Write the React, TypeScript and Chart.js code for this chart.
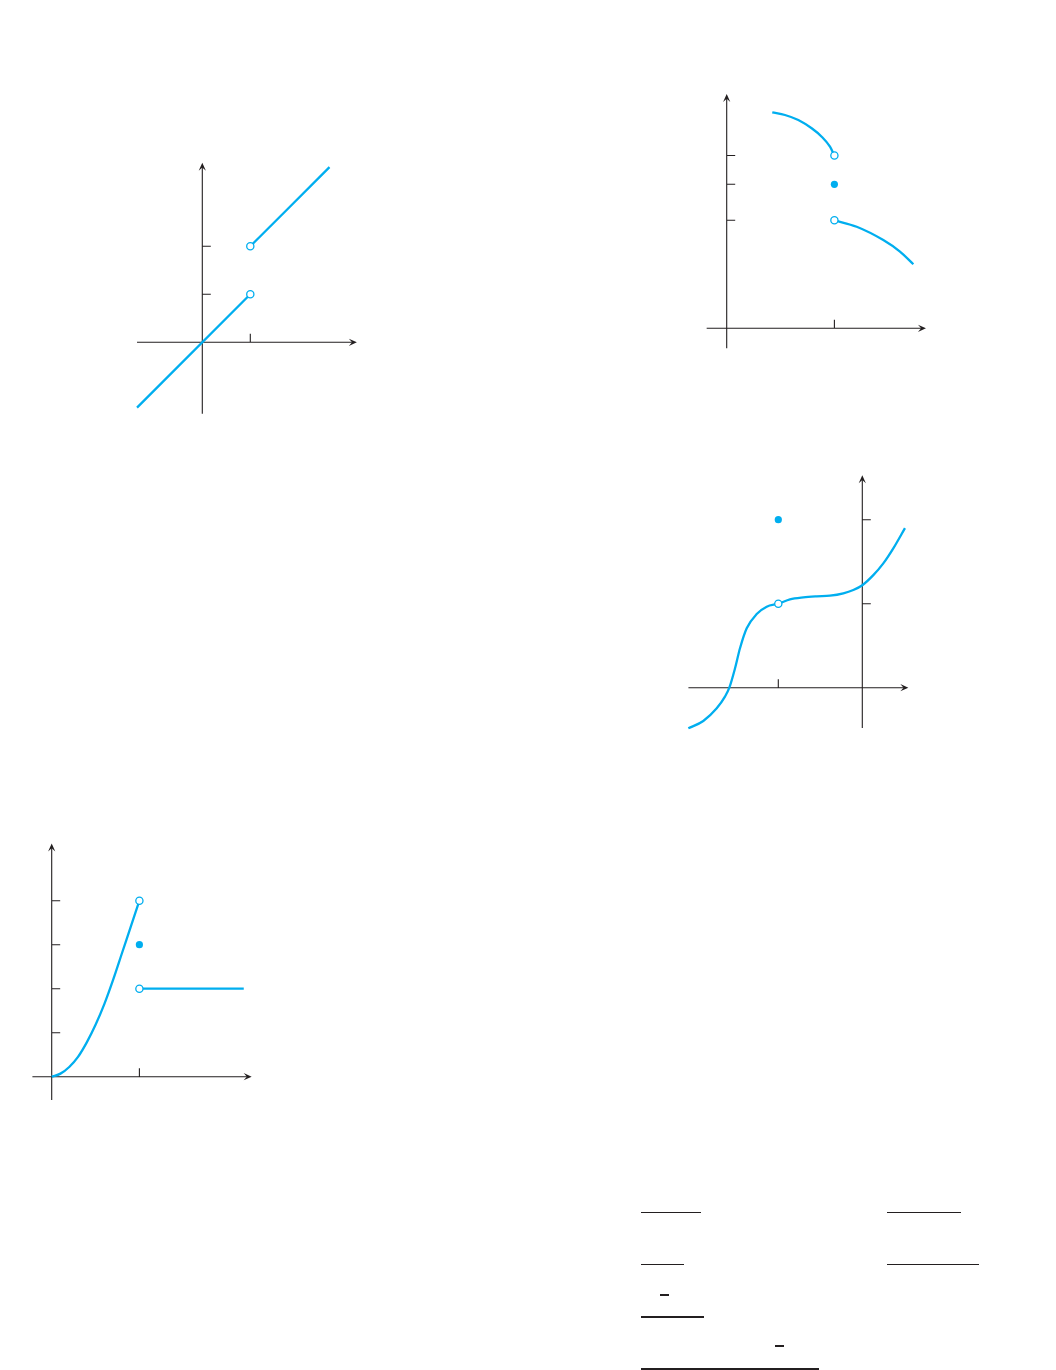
import React, { useEffect, useRef } from "react";
import { Chart, registerables } from "chart.js";

Chart.register(...registerables);

const CYAN = "#00aeef";
const INK = "#231f20";

// ---- Graph 1 (top-left): y = x for x<1, y = x+1 for x>1 ----
const g1LowerLine = [{ x: -1.36, y: -1.36 }, { x: 1, y: 1 }];
const g1UpperLine = [{ x: 1, y: 2 }, { x: 2.65, y: 3.65 }];
const g1Open = [{ x: 1, y: 1 }, { x: 1, y: 2 }];
const g1Filled: { x: number; y: number }[] = [];
const g1XTicks = [1];
const g1YTicks = [1, 2];

// ---- Graph 2 (top-right) ----
const g2UpperCurve = [
  { x: 0.423, y: 6.0 },
  { x: 0.541, y: 5.925 },
  { x: 0.665, y: 5.786 },
  { x: 0.789, y: 5.556 },
  { x: 0.882, y: 5.322 },
  { x: 0.959, y: 5.044 },
  { x: 1, y: 4.8 },
];
const g2LowerCurve = [
  { x: 1, y: 3.0 },
  { x: 1.207, y: 2.82 },
  { x: 1.454, y: 2.45 },
  { x: 1.609, y: 2.13 },
  { x: 1.733, y: 1.78 },
];
const g2Open = [{ x: 1, y: 4.8 }, { x: 1, y: 3.0 }];
const g2Filled = [{ x: 1, y: 4 }];
const g2XTicks = [1];
const g2YTicks = [3, 4, 4.8];

// ---- Graph 3 (middle-right) ----
const g3Curve = [
  { x: -2.071, y: -0.483 },
  { x: -1.893, y: -0.396 },
  { x: -1.733, y: -0.245 },
  { x: -1.635, y: -0.107 },
  { x: -1.583, y: 0 },
  { x: -1.515, y: 0.231 },
  { x: -1.456, y: 0.469 },
  { x: -1.376, y: 0.707 },
  { x: -1.257, y: 0.877 },
  { x: -1.138, y: 0.964 },
  { x: -1, y: 1.0 },
  { x: -0.861, y: 1.052 },
  { x: -0.702, y: 1.076 },
  { x: -0.543, y: 1.088 },
  { x: -0.385, y: 1.095 },
  { x: -0.226, y: 1.123 },
  { x: -0.107, y: 1.163 },
  { x: 0, y: 1.22 },
  { x: 0.131, y: 1.34 },
  { x: 0.25, y: 1.48 },
  { x: 0.369, y: 1.659 },
  { x: 0.508, y: 1.9 },
];
const g3Open = [{ x: -1, y: 1 }];
const g3Filled = [{ x: -1, y: 2 }];
const g3XTicks = [-1];
const g3YTicks = [1, 2];

// ---- Graph 4 (bottom-left) ----
const g4Curve = [
  { x: 0, y: 0 },
  { x: 0.1, y: 0.07 },
  { x: 0.2, y: 0.22 },
  { x: 0.3, y: 0.45 },
  { x: 0.4, y: 0.78 },
  { x: 0.5, y: 1.18 },
  { x: 0.6, y: 1.65 },
  { x: 0.7, y: 2.2 },
  { x: 0.8, y: 2.8 },
  { x: 0.9, y: 3.4 },
  { x: 1, y: 4 },
];
const g4Flat = [{ x: 1, y: 2 }, { x: 2.19, y: 2 }];
const g4Open = [{ x: 1, y: 4 }, { x: 1, y: 2 }];
const g4Filled = [{ x: 1, y: 3 }];
const g4XTicks = [1];
const g4YTicks = [1, 2, 3, 4];

type Pt = { x: number; y: number };

interface GraphProps {
  box: { left: number; top: number; width: number; height: number };
  origin: { x: number; y: number };
  unit: { x: number; y: number };
  axes: { xFrom: number; xTo: number; yFrom: number; yTo: number };
  xTicks: number[];
  yTicks: number[];
  curves: Pt[][];
  open: Pt[];
  filled: Pt[];
}

function drawArrow(ctx: CanvasRenderingContext2D, tx: number, ty: number, dx: number, dy: number) {
  const len = 8;
  const hw = 3.6;
  const nx = -dy;
  const ny = dx;
  const bx = tx - dx * len;
  const by = ty - dy * len;
  ctx.beginPath();
  ctx.moveTo(tx, ty);
  ctx.lineTo(bx + nx * hw, by + ny * hw);
  ctx.lineTo(tx - dx * len * 0.6, ty - dy * len * 0.6);
  ctx.lineTo(bx - nx * hw, by - ny * hw);
  ctx.closePath();
  ctx.fill();
}

function Graph(props: GraphProps) {
  const ref = useRef<HTMLCanvasElement | null>(null);
  useEffect(() => {
    const { box, origin, unit, axes, xTicks, yTicks, curves, open, filled } = props;
    const xmin = (box.left - origin.x) / unit.x;
    const xmax = (box.left + box.width - origin.x) / unit.x;
    const ymax = (origin.y - box.top) / unit.y;
    const ymin = (origin.y - (box.top + box.height)) / unit.y;

    const axesPlugin = {
      id: "axesPlugin",
      beforeDatasetsDraw(chart: any) {
        const ctx = chart.ctx as CanvasRenderingContext2D;
        const sx = chart.scales.x;
        const sy = chart.scales.y;
        const x0 = sx.getPixelForValue(0);
        const y0 = sy.getPixelForValue(0);
        const xa = sx.getPixelForValue(axes.xFrom);
        const xb = sx.getPixelForValue(axes.xTo);
        const ya = sy.getPixelForValue(axes.yFrom);
        const yb = sy.getPixelForValue(axes.yTo);
        ctx.save();
        ctx.strokeStyle = INK;
        ctx.fillStyle = INK;
        ctx.lineWidth = 1.1;
        ctx.beginPath();
        ctx.moveTo(xa, y0);
        ctx.lineTo(xb - 4, y0);
        ctx.moveTo(x0, ya);
        ctx.lineTo(x0, yb + 4);
        xTicks.forEach((t) => {
          const px = sx.getPixelForValue(t);
          ctx.moveTo(px, y0);
          ctx.lineTo(px, y0 - 8.5);
        });
        yTicks.forEach((t) => {
          const py = sy.getPixelForValue(t);
          ctx.moveTo(x0, py);
          ctx.lineTo(x0 + 8.5, py);
        });
        ctx.stroke();
        drawArrow(ctx, xb, y0, 1, 0);
        drawArrow(ctx, x0, yb, 0, -1);
        ctx.restore();
      },
    };

    const datasets: any[] = [];
    datasets.push({
      data: open,
      showLine: false,
      pointRadius: 3.6,
      pointBorderWidth: 1.3,
      pointBackgroundColor: "#ffffff",
      pointBorderColor: CYAN,
      order: 0,
    });
    datasets.push({
      data: filled,
      showLine: false,
      pointRadius: 3.6,
      pointBorderWidth: 0,
      pointBackgroundColor: CYAN,
      pointBorderColor: CYAN,
      order: 0,
    });
    curves.forEach((c) => {
      datasets.push({
        data: c,
        showLine: true,
        borderColor: CYAN,
        borderWidth: 2.3,
        pointRadius: 0,
        cubicInterpolationMode: "monotone",
        fill: false,
        order: 1,
      });
    });

    const chart = new Chart(ref.current as HTMLCanvasElement, {
      type: "scatter",
      data: { datasets },
      options: {
        animation: false,
        responsive: false,
        devicePixelRatio: 1,
        layout: { padding: 0, autoPadding: false },
        plugins: { legend: { display: false }, tooltip: { enabled: false } },
        events: [],
        scales: {
          x: { type: "linear", display: false, min: xmin, max: xmax },
          y: { type: "linear", display: false, min: ymin, max: ymax },
        },
      } as any,
      plugins: [axesPlugin],
    });
    return () => chart.destroy();
  }, []);
  const { box } = props;
  return (
    <canvas
      ref={ref}
      width={box.width}
      height={box.height}
      style={{ position: "absolute", left: box.left, top: box.top, width: box.width, height: box.height }}
    />
  );
}

const bar = (left: number, top: number, width: number) => (
  <div
    key={`${left}-${top}`}
    style={{ position: "absolute", left, top, width, height: 1.6, background: INK }}
  />
);

export default function App() {
  return (
    <div style={{ position: "absolute", left: 0, top: 0, width: 1056, height: 1370, background: "#fff", overflow: "hidden" }}>
      <Graph
        box={{ left: 120, top: 150, width: 250, height: 270 }}
        origin={{ x: 202.3, y: 342.3 }}
        unit={{ x: 48, y: 48 }}
        axes={{ xFrom: -1.36, xTo: 3.22, yFrom: -1.49, yTo: 3.74 }}
        xTicks={g1XTicks}
        yTicks={g1YTicks}
        curves={[g1LowerLine, g1UpperLine]}
        open={g1Open}
        filled={g1Filled}
      />
      <Graph
        box={{ left: 690, top: 80, width: 250, height: 280 }}
        origin={{ x: 726.7, y: 328.3 }}
        unit={{ x: 107.7, y: 36 }}
        axes={{ xFrom: -0.186, xTo: 1.85, yFrom: -0.556, yTo: 6.51 }}
        xTicks={g2XTicks}
        yTicks={g2YTicks}
        curves={[g2UpperCurve, g2LowerCurve]}
        open={g2Open}
        filled={g2Filled}
      />
      <Graph
        box={{ left: 670, top: 460, width: 250, height: 280 }}
        origin={{ x: 862.3, y: 687.7 }}
        unit={{ x: 84, y: 84 }}
        axes={{ xFrom: -2.07, xTo: 0.548, yFrom: -0.48, yTo: 2.53 }}
        xTicks={g3XTicks}
        yTicks={g3YTicks}
        curves={[g3Curve]}
        open={g3Open}
        filled={g3Filled}
      />
      <Graph
        box={{ left: 20, top: 830, width: 250, height: 280 }}
        origin={{ x: 51.7, y: 1076.7 }}
        unit={{ x: 87.7, y: 44 }}
        axes={{ xFrom: -0.22, xTo: 2.28, yFrom: -0.53, yTo: 5.3 }}
        xTicks={g4XTicks}
        yTicks={g4YTicks}
        curves={[g4Curve, g4Flat]}
        open={g4Open}
        filled={g4Filled}
      />
      {bar(641, 1211.5, 60)}
      {bar(641, 1263.5, 43)}
      {bar(660, 1294.2, 8.5)}
      {bar(641, 1316, 63)}
      {bar(775, 1345, 8.5)}
      {bar(641, 1368.2, 178)}
      {bar(886.7, 1211.5, 74.3)}
      {bar(886.7, 1263.5, 92.3)}
    </div>
  );
}
